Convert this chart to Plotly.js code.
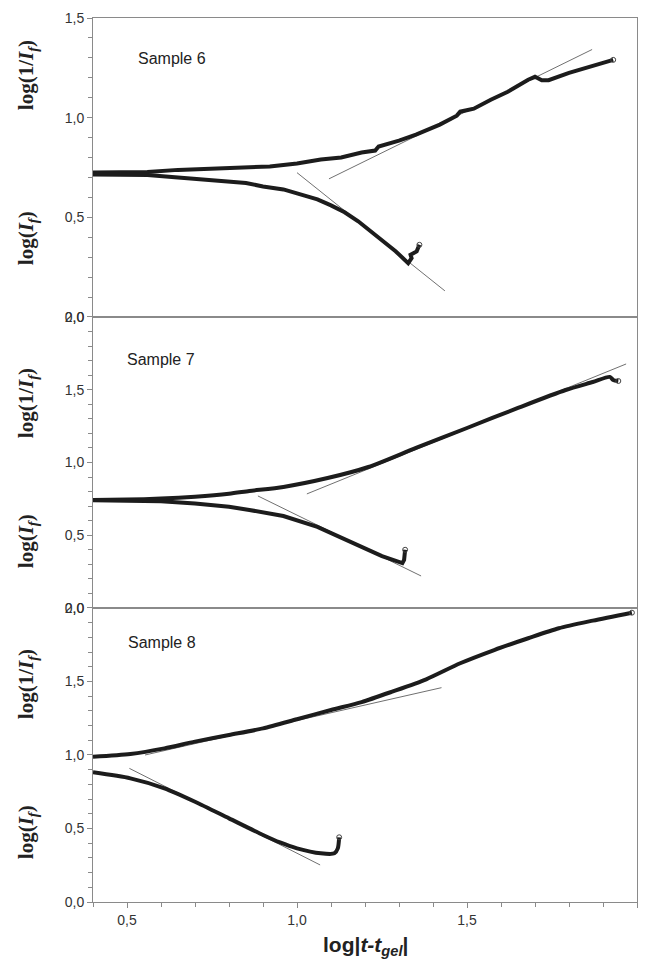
<!DOCTYPE html>
<html>
<head>
<meta charset="utf-8">
<script src="https://cdn.plot.ly/plotly-3.0.1.min.js"></script>
<style>html,body{margin:0;padding:0;background:#fff;}#chart{width:645px;height:971px;}</style>
</head>
<body>
<div id="chart"></div>
<script>
// ---- Sample 6 ----
const s6UpX = [0.40,0.50,0.56,0.65,0.75,0.85,0.92,1.00,1.07,1.13,1.19,1.23,1.24,1.30,1.35,1.42,1.47,1.48,1.52,1.57,1.62,1.68,1.70,1.72,1.74,1.80,1.86,1.93];
const s6UpY = [0.725,0.725,0.727,0.738,0.744,0.750,0.755,0.770,0.790,0.800,0.825,0.835,0.855,0.885,0.915,0.965,1.010,1.030,1.045,1.090,1.130,1.190,1.205,1.188,1.188,1.225,1.255,1.290];
const s6LoX = [0.40,0.50,0.56,0.65,0.75,0.85,0.90,0.96,1.00,1.06,1.10,1.14,1.18,1.21,1.25,1.29,1.327,1.337,1.334,1.352,1.36];
const s6LoY = [0.715,0.713,0.712,0.700,0.688,0.672,0.655,0.640,0.620,0.590,0.560,0.525,0.480,0.440,0.385,0.330,0.270,0.295,0.312,0.329,0.362];
const s6FitUpX = [1.094,1.868], s6FitUpY = [0.693,1.342];
const s6FitLoX = [1.000,1.435], s6FitLoY = [0.724,0.131];
// ---- Sample 7 ----
const s7UpX = [0.40,0.50,0.60,0.70,0.80,0.86,0.96,1.09,1.21,1.35,1.50,1.65,1.79,1.87,1.92,1.93,1.945];
const s7UpY = [0.742,0.745,0.752,0.765,0.785,0.804,0.832,0.893,0.969,1.100,1.237,1.375,1.498,1.553,1.588,1.567,1.560];
const s7LoX = [0.40,0.50,0.60,0.70,0.80,0.86,0.96,1.06,1.16,1.25,1.31,1.315,1.318];
const s7LoY = [0.740,0.738,0.733,0.718,0.695,0.674,0.632,0.557,0.454,0.357,0.309,0.330,0.400];
const s7FitUpX = [1.029,1.968], s7FitUpY = [0.784,1.677];
const s7FitLoX = [0.885,1.365], s7FitLoY = [0.770,0.220];
// ---- Sample 8 ----
const s8UpX = [0.40,0.51,0.61,0.70,0.80,0.90,1.00,1.10,1.19,1.28,1.38,1.48,1.58,1.68,1.77,1.87,1.985];
const s8UpY = [0.988,1.007,1.045,1.091,1.136,1.181,1.243,1.306,1.360,1.431,1.515,1.624,1.714,1.794,1.862,1.914,1.968];
const s8LoX = [0.40,0.51,0.61,0.70,0.80,0.90,0.95,1.00,1.07,1.11,1.12,1.124];
const s8LoY = [0.882,0.841,0.773,0.682,0.569,0.456,0.405,0.365,0.331,0.331,0.365,0.440];
const s8FitUpX = [0.553,1.425], s8FitUpY = [1.000,1.458];
const s8FitLoX = [0.507,1.068], s8FitLoY = [0.909,0.252];

const sampleLabels = ["Sample 6","Sample 7","Sample 8"];
const xTickVals = [0.5,1.0,1.5,2.0];

const fitLine = {color:'#707070', width:1};
function curve(x,y,xa,ya,shape){
  return {x:x,y:y,xaxis:xa,yaxis:ya,mode:'lines',
    line:{color:'#1c1c1c', width:4, shape:shape||'spline', smoothing:0.7},hoverinfo:'skip'};
}
function endMark(x,y,xa,ya){
  return {x:[x[x.length-1]],y:[y[y.length-1]],xaxis:xa,yaxis:ya,mode:'markers',
    marker:{symbol:'circle-open', size:5, color:'#444', line:{width:1}},hoverinfo:'skip'};
}
function fit(x,y,xa,ya){return {x:x,y:y,xaxis:xa,yaxis:ya,mode:'lines',line:fitLine,hoverinfo:'skip'};}

const traces = [
  fit(s6FitUpX,s6FitUpY,'x3','y3'), fit(s6FitLoX,s6FitLoY,'x3','y3'),
  curve(s6UpX,s6UpY,'x3','y3','linear'), curve(s6LoX,s6LoY,'x3','y3','linear'),
  endMark(s6UpX,s6UpY,'x3','y3'), endMark(s6LoX,s6LoY,'x3','y3'),
  fit(s7FitUpX,s7FitUpY,'x2','y2'), fit(s7FitLoX,s7FitLoY,'x2','y2'),
  curve(s7UpX,s7UpY,'x2','y2'), curve(s7LoX,s7LoY,'x2','y2','linear'),
  endMark(s7UpX,s7UpY,'x2','y2'), endMark(s7LoX,s7LoY,'x2','y2'),
  fit(s8FitUpX,s8FitUpY,'x','y'), fit(s8FitLoX,s8FitLoY,'x','y'),
  curve(s8UpX,s8UpY,'x','y'), curve(s8LoX,s8LoY,'x','y'),
  endMark(s8UpX,s8UpY,'x','y'), endMark(s8LoX,s8LoY,'x','y')
];

const frame = '#8a8a8a';
const tickFont = {family:'Liberation Sans, Arial, sans-serif', size:14, color:'#333'};
function xax(anchor, labels){
  return {domain:[0,1], range:[0.4,2.0], anchor:anchor, showline:true, linecolor:frame, linewidth:1, mirror:true,
    showgrid:false, zeroline:false, ticks: labels?'outside':'', ticklen:5, tickcolor:frame,
    tickvals: xTickVals, tickformat:'.1f', showticklabels:labels, tickfont:tickFont,
    minor: labels?{ticks:'outside', dtick:0.1, ticklen:4, tickcolor:frame, tick0:0}:{ticks:''}};
}
function yax(anchor, dom, rng, vals){
  return {domain:dom, range:rng, anchor:anchor, showline:true, linecolor:frame, linewidth:1, mirror:true,
    showgrid:false, zeroline:false, ticks:'outside', ticklen:5, tickcolor:frame,
    tickvals: vals, tickformat:'.1f', tickfont:tickFont,
    minor:{ticks:'outside', dtick:0.1, ticklen:4, tickcolor:frame, tick0:0}};
}

const titleFont = {family:'Liberation Serif, Times New Roman, serif', size:21, color:'#222'};
function ytitle(txt, py){
  return {text:txt, xref:'paper', yref:'paper', x:-0.121, y:(902-py)/884, xanchor:'center', yanchor:'middle',
    textangle:-90, showarrow:false, font:titleFont};
}
function slabel(txt, px, py){
  return {text:txt, xref:'paper', yref:'paper', x:(px-93)/544, y:(902-py)/884, xanchor:'left', yanchor:'middle',
    showarrow:false, font:{family:'Liberation Sans, Arial, sans-serif', size:16, color:'#222'}};
}
const upT = '<b>log(1/<i>I</i><sub><i>f</i></sub>)</b>';
const loT = '<b>log(<i>I</i><sub><i>f</i></sub>)</b>';

const layout = {
  width:645, height:971, margin:{l:93, r:8, t:18, b:69},
  paper_bgcolor:'#fff', plot_bgcolor:'#fff', showlegend:false, separators:', ',
  xaxis: xax('y', true),
  xaxis2: Object.assign(xax('y2', false), {matches:'x'}),
  xaxis3: Object.assign(xax('y3', false), {matches:'x'}),
  yaxis: yax('x', [0,0.3326], [0,2.0], [0,0.5,1.0,1.5,2.0]),
  yaxis2: yax('x2', [0.3326,0.6618], [0,2.0], [0,0.5,1.0,1.5,2.0]),
  yaxis3: yax('x3', [0.6618,1], [0,1.5], [0,0.5,1.0,1.5]),
  annotations: [
    ytitle(upT, 75), ytitle(loT, 238),
    ytitle(upT, 403), ytitle(loT, 541),
    ytitle(upT, 684), ytitle(loT, 832),
    slabel(sampleLabels[0], 136, 59), slabel(sampleLabels[1], 125, 360), slabel(sampleLabels[2], 126, 643),
    {text:'<b>log|<i>t-t</i><sub><i>gel</i></sub>|</b>', xref:'paper', yref:'paper', x:0.5, y:(902-946)/884,
     xanchor:'center', yanchor:'middle', showarrow:false,
     font:{family:'Liberation Sans, Arial, sans-serif', size:21, color:'#222'}}
  ]
};
Plotly.newPlot('chart', traces, layout, {staticPlot:true, displayModeBar:false});
</script>
</body>
</html>
